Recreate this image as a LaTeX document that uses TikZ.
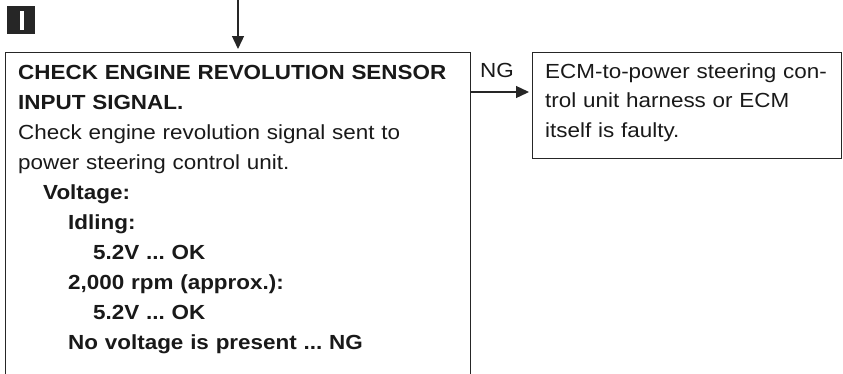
\documentclass[tikz,border=0pt]{standalone}
\usepackage{fontspec}
\setmainfont{Liberation Sans}[FakeStretch=1.1]
\usetikzlibrary{arrows.meta}
\frenchspacing

\tikzset{
  frame/.style={draw=black!85, line width=1.3pt, inner sep=0},
  flow/.style={draw=black!85, line width=1.3pt, -{Triangle[length=13pt,width=12pt]}, shorten >=3pt},
  txt/.style={anchor=base west, align=left, inner sep=0},
}
\newcommand{\ind}{\hspace*{25pt}}

\begin{document}
\begin{tikzpicture}[x=1pt,y=1pt,font=\fontsize{20.4}{29.5}\selectfont,text=black!90]

\useasboundingbox (0,0) rectangle (843,-373);
\clip (0,0) rectangle (843,-373);

\node[fill=black!85, minimum width=28, minimum height=28, inner sep=0, anchor=north west] (stepicon) at (7,-6) {};
\fill[white] ([xshift=-1.2,yshift=-9.5]stepicon.center) rectangle ++(3.5,19);

\node[frame, anchor=north west, minimum width=465, minimum height=400] (check) at (5,-52) {};
\node[txt, text width=445, font=\fontsize{20.4}{30.1}\selectfont] (checktxt) at (18,-79) {\textbf{CHECK ENGINE REVOLUTION SENSOR}\\
\textbf{INPUT SIGNAL.}\\
Check engine revolution signal sent to\\
power steering control unit.\\
\ind\textbf{Voltage:}\\
\ind\ind\textbf{Idling:}\\
\ind\ind\ind\textbf{5.2V ... OK}\\
\ind\ind\textbf{2,000 rpm (approx.):}\\
\ind\ind\ind\textbf{5.2V ... OK}\\
\ind\ind\textbf{No voltage is present ... NG}};

\node[frame, anchor=north west, minimum width=309, minimum height=106] (ecm) at (532,-52) {};
\node[txt, text width=295] (ecmtxt) at (545,-78) {ECM-to-power steering con-\\
trol unit harness or ECM\\
itself is faulty.};

\coordinate (in) at (238,0);
\draw[flow] (in) -- (in |- check.north);

\coordinate (ng) at (0,-92);
\draw[flow] (check.east |- ng) -- (ecm.west |- ng);
\node[txt] (nglbl) at (480,-77) {NG};

\end{tikzpicture}
\end{document}
